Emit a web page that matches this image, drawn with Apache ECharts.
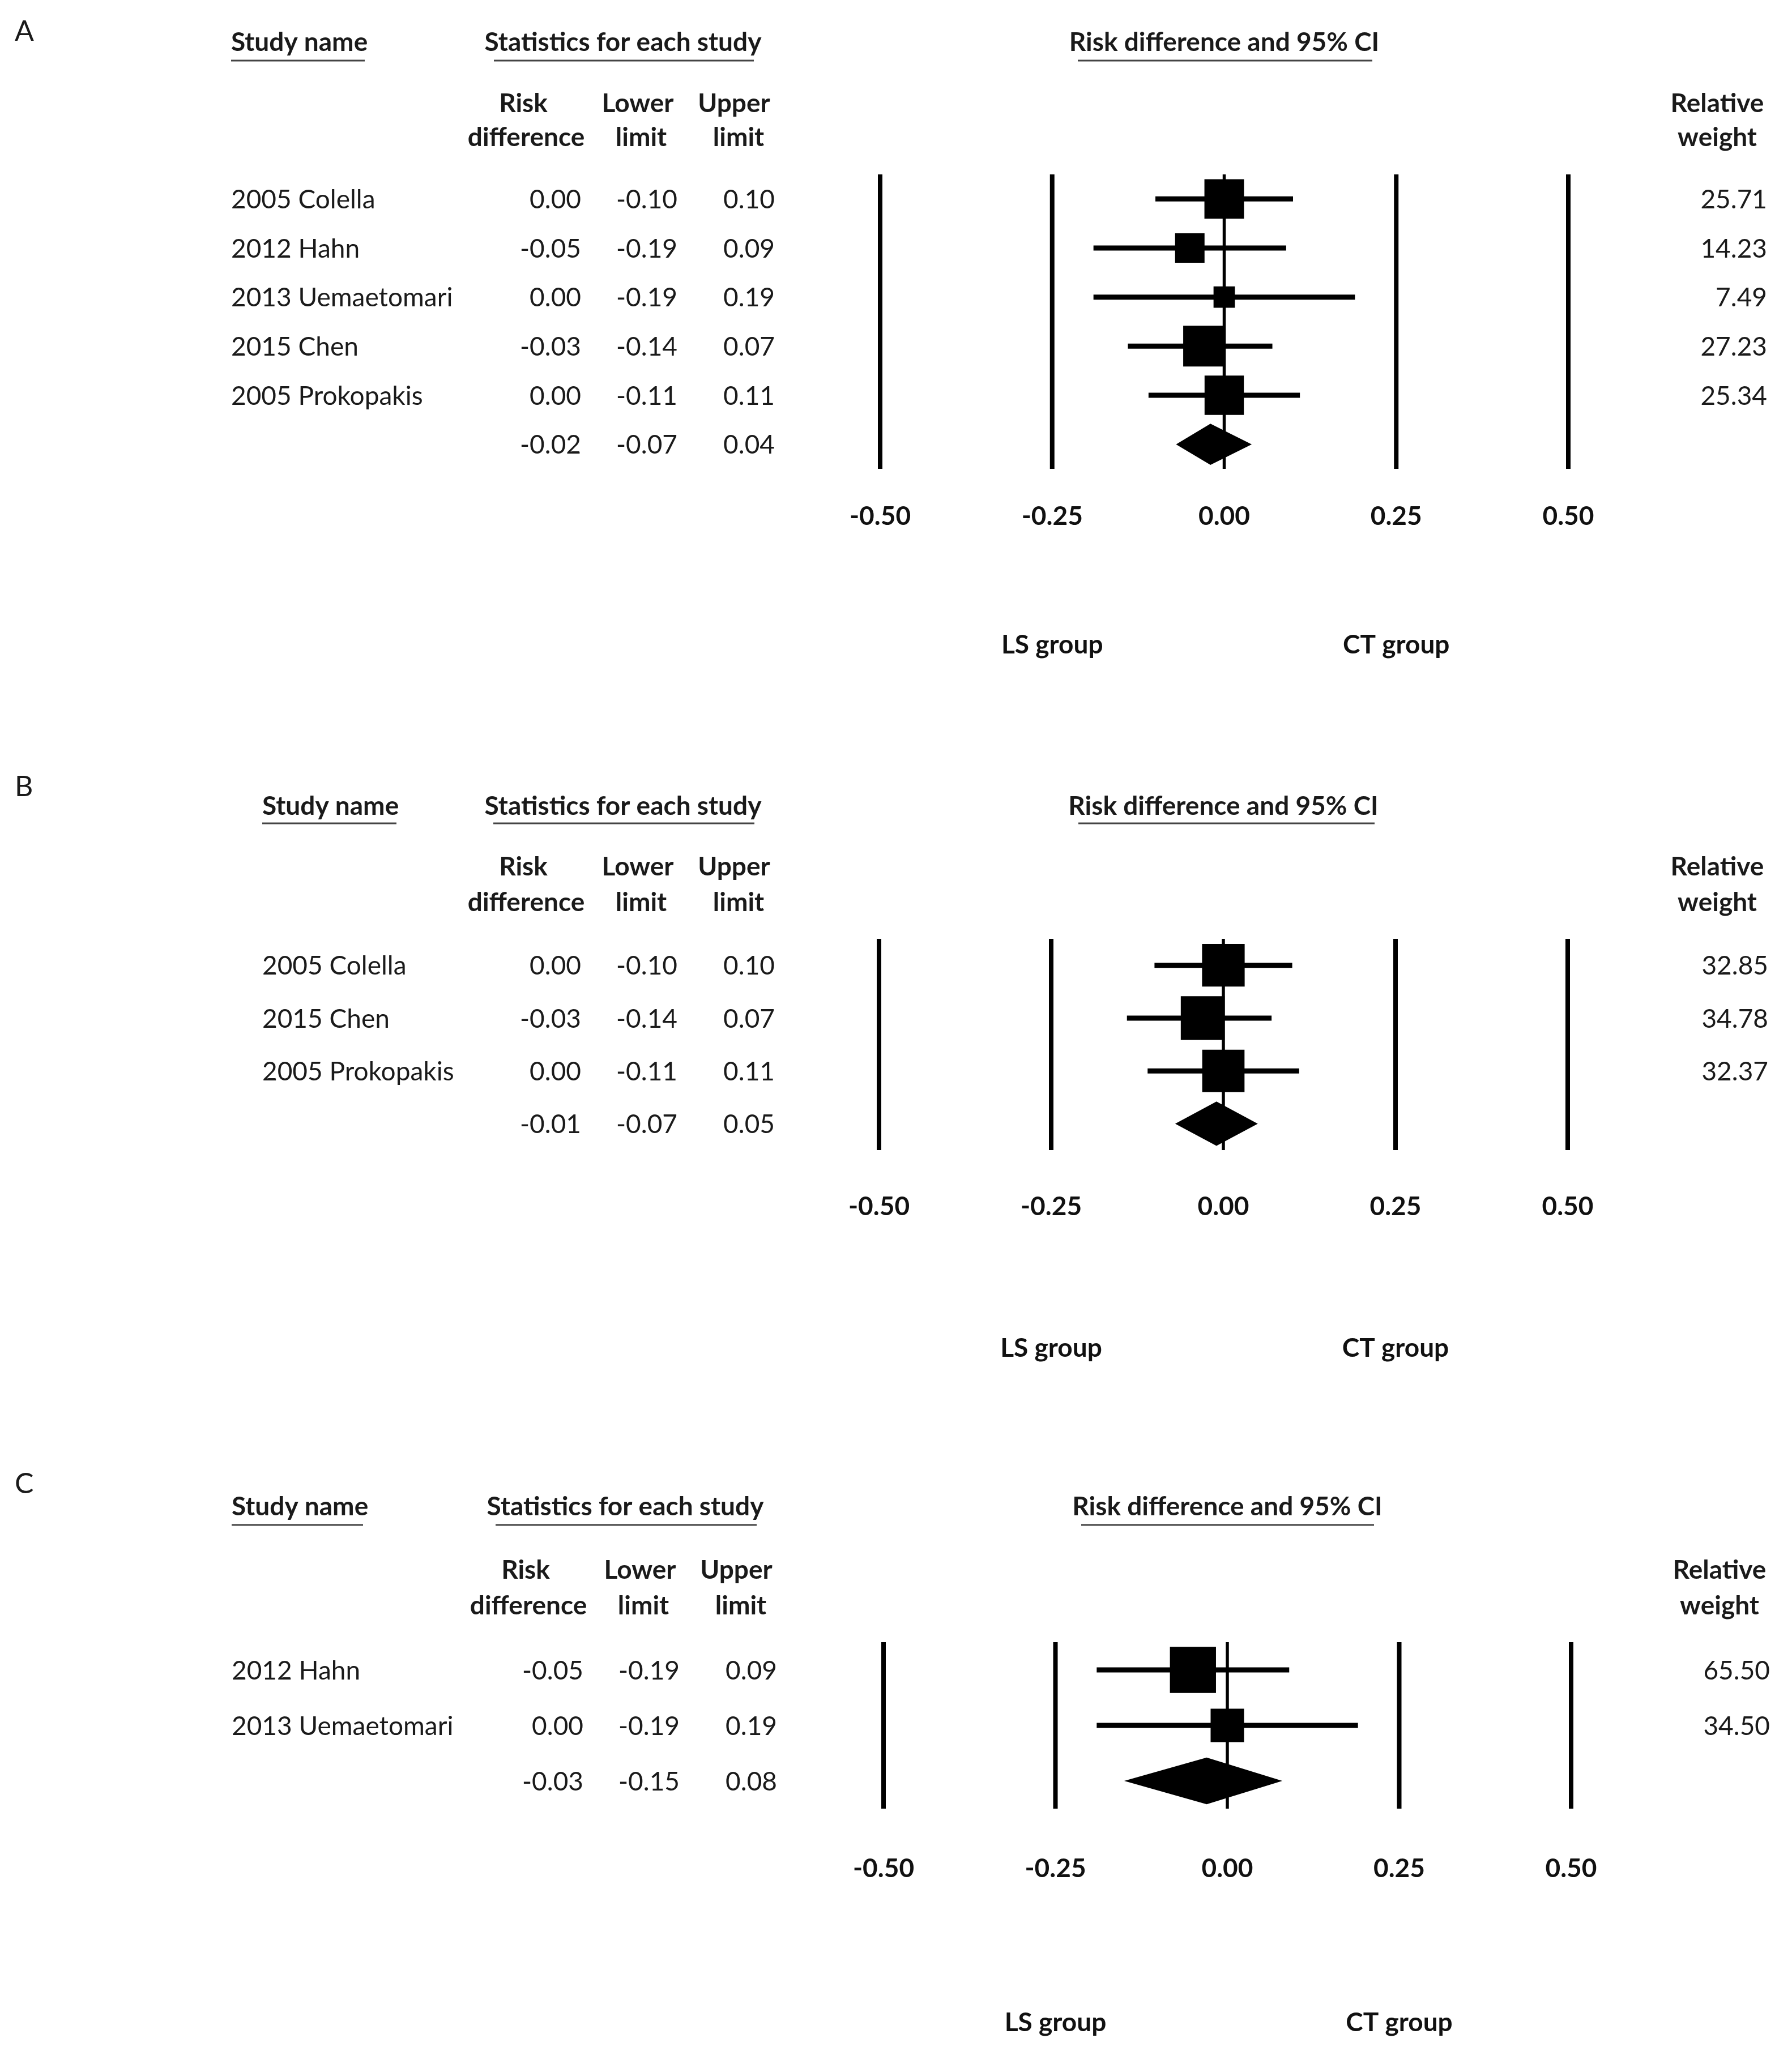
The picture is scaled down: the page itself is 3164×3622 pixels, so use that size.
<!DOCTYPE html>
<html>
<head>
<meta charset="utf-8">
<script src="https://cdn.jsdelivr.net/npm/echarts@6/dist/echarts.min.js"></script>
<style>
html,body{margin:0;padding:0;background:#ffffff;}
#main{width:3164px;height:3622px;}
</style>
</head>
<body>
<div id="main"></div>
<script>
// ---------- DATA ----------
// Panel A
const studiesA = ['2005 Colella', '2012 Hahn', '2013 Uemaetomari', '2015 Chen', '2005 Prokopakis'];
const riskA    = [0.00, -0.05, 0.00, -0.03, 0.00];
const lowerA   = [-0.10, -0.19, -0.19, -0.14, -0.11];
const upperA   = [0.10, 0.09, 0.19, 0.07, 0.11];
const weightA  = [25.71, 14.23, 7.49, 27.23, 25.34];
const pooledA  = [-0.02, -0.07, 0.04];   // estimate, lower, upper
// Panel B
const studiesB = ['2005 Colella', '2015 Chen', '2005 Prokopakis'];
const riskB    = [0.00, -0.03, 0.00];
const lowerB   = [-0.10, -0.14, -0.11];
const upperB   = [0.10, 0.07, 0.11];
const weightB  = [32.85, 34.78, 32.37];
const pooledB  = [-0.01, -0.07, 0.05];
// Panel C
const studiesC = ['2012 Hahn', '2013 Uemaetomari'];
const riskC    = [-0.05, 0.00];
const lowerC   = [-0.19, -0.19];
const upperC   = [0.09, 0.19];
const weightC  = [65.50, 34.50];
const pooledC  = [-0.03, -0.15, 0.08];

const panelLetters = ['A', 'B', 'C'];
const axisTicks = [-0.50, -0.25, 0.00, 0.25, 0.50];
const groupLabels = ['LS group', 'CT group'];
const groupPositions = [-0.25, 0.25];
const headerStudy = 'Study name';
const headerStats = 'Statistics for each study';
const headerPlot = 'Risk difference and 95% CI';
const colHeaders = [['Risk', 'difference'], ['Lower', 'limit'], ['Upper', 'limit']];
const weightHeader = ['Relative', 'weight'];

// ---------- LAYOUT (pixels) ----------
const panels = [
  {studies: studiesA, risk: riskA, lower: lowerA, upper: upperA, weight: weightA, pooled: pooledA},
  {studies: studiesB, risk: riskB, lower: lowerB, upper: upperB, weight: weightB, pooled: pooledB},
  {studies: studiesC, risk: riskC, lower: lowerC, upper: upperC, weight: weightC, pooled: pooledC}
];
const layouts = [
  {dx: 0, x0: 1554, x1: 2769, top: 308, bottom: 828, letterY: 56, titleY: 75, ulY: 107, h1Y: 183, h2Y: 243,
   tickGap: 84, groupY: 1139, nameX: 408, ulStudy: [408, 644], titleStatsX: 1100, ulStats: [872, 1331], ulPlot: [1903, 2423], wR: 3120},
  {dx: 0, x0: 1552, x1: 2768, top: 1658, bottom: 2031, letterY: 1390, titleY: 1424, ulY: 1454, h1Y: 1531, h2Y: 1594,
   tickGap: 100, groupY: 2381, nameX: 463, ulStudy: [463, 700], titleStatsX: 1100, ulStats: [871, 1332], ulPlot: [1904, 2427], wR: 3122},
  {dx: 4, x0: 1560, x1: 2774, top: 2900, bottom: 3194, letterY: 2621, titleY: 2661, ulY: 2693, h1Y: 2773, h2Y: 2836,
   tickGap: 106, groupY: 3572, nameX: 409, ulStudy: [409, 641], titleStatsX: 1104, ulStats: [875, 1336], ulPlot: [1909, 2426], wR: 3125}
];
const colRight = [1026, 1196, 1368];
const headCenters = [[924, 929], [1126, 1132], [1296, 1304]];
const relCenter = 3032;

const FONT = 'Lato, "Open Sans", sans-serif';
const TXT = '#1a1a1a';

// ---------- BUILD ----------
const grid = [], xAxis = [], yAxis = [], series = [], graphic = [];

panels.forEach((P, p) => {
  const L = layouts[p];
  const n = P.studies.length;          // summary row index = n
  const rows = n + 1;
  const maxW = Math.max.apply(null, P.weight);

  grid.push({left: L.x0, width: L.x1 - L.x0, top: L.top, height: L.bottom - L.top});
  xAxis.push({
    gridIndex: p, type: 'value', min: -0.5, max: 0.5, interval: 0.25,
    axisLine: {show: false}, axisTick: {show: false}, splitLine: {show: false},
    axisLabel: {
      margin: L.tickGap, verticalAlign: 'middle',
      formatter: v => v.toFixed(2),
      fontFamily: FONT, fontWeight: 'bold', fontSize: 46, color: '#111111'
    }
  });
  yAxis.push({gridIndex: p, type: 'value', min: -0.5, max: rows - 0.5, inverse: true, show: false});

  // vertical reference lines at the ticks
  series.push({
    type: 'custom', xAxisIndex: p, yAxisIndex: p, silent: true, z: 1,
    data: axisTicks.map(v => [v, 0]),
    renderItem: (params, api) => {
      const v = api.value(0);
      const a = api.coord([v, -0.5]);
      const b = api.coord([v, rows - 0.5]);
      return {type: 'line', shape: {x1: a[0], y1: a[1], x2: b[0], y2: b[1]},
              style: {stroke: '#000', lineWidth: v === 0 ? 5.5 : 8}};
    }
  });
  // CI lines
  series.push({
    type: 'custom', xAxisIndex: p, yAxisIndex: p, silent: true, z: 2,
    data: P.studies.map((s, i) => [P.lower[i], i, P.upper[i]]),
    renderItem: (params, api) => {
      const a = api.coord([api.value(0), api.value(1)]);
      const b = api.coord([api.value(2), api.value(1)]);
      return {type: 'line', shape: {x1: a[0], y1: a[1], x2: b[0], y2: b[1]},
              style: {stroke: '#000', lineWidth: 9}};
    }
  });
  // weight boxes
  series.push({
    type: 'custom', xAxisIndex: p, yAxisIndex: p, silent: true, z: 3,
    data: P.studies.map((s, i) => [P.risk[i], i, P.weight[i]]),
    renderItem: (params, api) => {
      const c = api.coord([api.value(0), api.value(1)]);
      const rowH = api.size([0, 1])[1];
      const s = 0.83 * rowH * Math.sqrt(api.value(2) / maxW);
      return {type: 'rect', shape: {x: c[0] - s / 2, y: c[1] - s / 2, width: s, height: s},
              style: {fill: '#000'}};
    }
  });
  // pooled diamond
  series.push({
    type: 'custom', xAxisIndex: p, yAxisIndex: p, silent: true, z: 3,
    data: [[P.pooled[0], n, P.pooled[1], P.pooled[2]]],
    renderItem: (params, api) => {
      const y = api.value(1);
      const c = api.coord([api.value(0), y]);
      const lo = api.coord([api.value(2), y]);
      const hi = api.coord([api.value(3), y]);
      const h = 0.84 * api.size([0, 1])[1] / 2;
      return {type: 'polygon',
              shape: {points: [[lo[0], c[1]], [c[0], c[1] - h], [hi[0], c[1]], [c[0], c[1] + h]]},
              style: {fill: '#000'}};
    }
  });
  // table rows (names, statistics, weights)
  series.push({
    type: 'custom', xAxisIndex: p, yAxisIndex: p, silent: true, z: 4,
    data: Array.from({length: rows}, (d, i) => [0, i]),
    renderItem: (params, api) => {
      const i = api.value(1);
      const y = api.coord([0, i])[1] + 2;
      const font = '46px ' + FONT;
      const ch = [];
      let vals;
      if (i < n) {
        ch.push({type: 'text', x: L.nameX, y: y, style: {text: P.studies[i], font: font, fill: TXT, align: 'left', verticalAlign: 'middle'}});
        ch.push({type: 'text', x: L.wR, y: y, style: {text: P.weight[i].toFixed(2), font: font, fill: TXT, align: 'right', verticalAlign: 'middle'}});
        vals = [P.risk[i], P.lower[i], P.upper[i]];
      } else {
        vals = P.pooled;
      }
      vals.forEach((v, k) => {
        ch.push({type: 'text', x: colRight[k] + L.dx, y: y, style: {text: v.toFixed(2), font: font, fill: TXT, align: 'right', verticalAlign: 'middle'}});
      });
      return {type: 'group', children: ch};
    }
  });
  // group labels under the axis
  series.push({
    type: 'custom', xAxisIndex: p, yAxisIndex: p, silent: true, z: 4,
    data: groupPositions.map((v, k) => [v, k]),
    renderItem: (params, api) => {
      const x = api.coord([api.value(0), 0])[0];
      return {type: 'text', x: x, y: L.groupY,
              style: {text: groupLabels[api.value(1)], font: 'bold 46px ' + FONT, fill: '#111111', align: 'center', verticalAlign: 'middle'}};
    }
  });

  // headers
  const bold = 'bold 46px ' + FONT;
  const plotCenter = (L.x0 + L.x1) / 2;
  graphic.push({type: 'text', x: 26, y: L.letterY, style: {text: panelLetters[p], font: '50px ' + FONT, fill: TXT, align: 'left', verticalAlign: 'middle'}});
  graphic.push({type: 'text', x: L.nameX, y: L.titleY, style: {text: headerStudy, font: bold, fill: TXT, align: 'left', verticalAlign: 'middle'}});
  graphic.push({type: 'text', x: L.titleStatsX, y: L.titleY, style: {text: headerStats, font: bold, fill: TXT, align: 'center', verticalAlign: 'middle'}});
  graphic.push({type: 'text', x: plotCenter, y: L.titleY, style: {text: headerPlot, font: bold, fill: TXT, align: 'center', verticalAlign: 'middle'}});
  [L.ulStudy, L.ulStats, L.ulPlot].forEach(u => {
    graphic.push({type: 'line', shape: {x1: u[0], y1: L.ulY, x2: u[1], y2: L.ulY}, style: {stroke: '#444', lineWidth: 3}});
  });
  colHeaders.forEach((h, k) => {
    graphic.push({type: 'text', x: headCenters[k][0] + L.dx, y: L.h1Y, style: {text: h[0], font: bold, fill: TXT, align: 'center', verticalAlign: 'middle'}});
    graphic.push({type: 'text', x: headCenters[k][1] + L.dx, y: L.h2Y, style: {text: h[1], font: bold, fill: TXT, align: 'center', verticalAlign: 'middle'}});
  });
  graphic.push({type: 'text', x: relCenter + L.dx, y: L.h1Y, style: {text: weightHeader[0], font: bold, fill: TXT, align: 'center', verticalAlign: 'middle'}});
  graphic.push({type: 'text', x: relCenter + L.dx, y: L.h2Y, style: {text: weightHeader[1], font: bold, fill: TXT, align: 'center', verticalAlign: 'middle'}});
});

const chart = echarts.init(document.getElementById('main'), null, {renderer: 'canvas'});
chart.setOption({
  backgroundColor: '#ffffff',
  animation: false,
  grid: grid,
  xAxis: xAxis,
  yAxis: yAxis,
  series: series,
  graphic: graphic
});
</script>
</body>
</html>
